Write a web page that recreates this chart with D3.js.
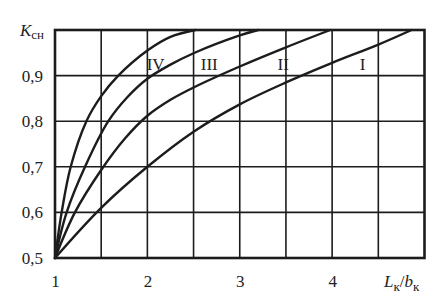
<!DOCTYPE html>
<html>
<head>
<meta charset="utf-8">
<script src="https://cdn.jsdelivr.net/npm/d3@7"></script>
<style>
  body { margin: 0; background: #fff; }
  svg { display: block; }
  text { font-family: "Liberation Serif", "DejaVu Serif", serif; fill: #222; }
</style>
</head>
<body>
<svg id="chart" width="445" height="308"></svg>
<script>
// Values: L_k/b_k against K_сн
const xTicks = [1, 2, 3, 4];
const yTicks = [0.5, 0.6, 0.7, 0.8, 0.9];
const curveNames = ["I", "II", "III", "IV"];

const curveI = [[1, 0.5], [1.5, 0.61], [2, 0.70], [2.5, 0.777], [3, 0.837],
                [3.5, 0.885], [4, 0.928], [4.5, 0.968], [4.86, 1.0]];
const curveII = [[1, 0.5], [1.216, 0.6], [1.5, 0.693], [1.757, 0.762], [2, 0.812],
                 [2.25, 0.847], [2.5, 0.874], [3, 0.92], [3.5, 0.962], [3.98, 1.0]];
const curveIII = [[1, 0.5], [1.126, 0.6], [1.325, 0.7], [1.577, 0.8], [1.78, 0.852],
                  [2, 0.893], [2.25, 0.924], [2.5, 0.949], [3, 0.988], [3.2, 1.0]];
const curveIV = [[1, 0.5], [1.072, 0.6], [1.17, 0.7], [1.34, 0.8], [1.5, 0.855],
                 [1.685, 0.9], [2, 0.955], [2.25, 0.985], [2.52, 1.0]];

// label positions (data units) for the roman numerals
const labelX = [4.33, 3.47, 2.67, 2.09];
const labelK = [0.912, 0.912, 0.912, 0.912];

const width = 445, height = 308;
const svg = d3.select("#chart");

const x = d3.scaleLinear().domain([1, 5]).range([55, 424.5]);
const y = d3.scaleLinear().domain([0.5, 1]).range([258, 30]);

const ink = "#1c1c1c";
const locale = d3.formatLocale({decimal: ",", thousands: " ", grouping: [3], currency: ["", ""]});
const fmt = locale.format(".1f");

// grid
const grid = svg.append("g").attr("stroke", ink).attr("stroke-width", 1.6);
grid.selectAll("line.v")
  .data(d3.range(1.5, 5, 0.5))
  .join("line")
  .attr("x1", d => x(d)).attr("x2", d => x(d))
  .attr("y1", y(0.5)).attr("y2", y(1));
grid.selectAll("line.h")
  .data(d3.range(0.6, 0.95, 0.1))
  .join("line")
  .attr("y1", d => y(d)).attr("y2", d => y(d))
  .attr("x1", x(1)).attr("x2", x(5));

// frame
svg.append("rect")
  .attr("x", x(1)).attr("y", y(1))
  .attr("width", x(5) - x(1)).attr("height", y(0.5) - y(1))
  .attr("fill", "none").attr("stroke", ink).attr("stroke-width", 2.6);

// curves
const line = d3.line().x(d => x(d[0])).y(d => y(d[1])).curve(d3.curveCatmullRom.alpha(0.5));
const curves = [curveI, curveII, curveIII, curveIV];
svg.append("g")
  .selectAll("path")
  .data(curves)
  .join("path")
  .attr("d", line)
  .attr("fill", "none")
  .attr("stroke", ink)
  .attr("stroke-width", 2.4)
  .attr("stroke-linecap", "round");

// curve labels
svg.append("g")
  .selectAll("text")
  .data(curveNames)
  .join("text")
  .attr("x", (d, i) => x(labelX[i]))
  .attr("y", (d, i) => y(labelK[i]))
  .attr("text-anchor", "middle")
  .attr("font-size", 17)
  .text(d => d);

// axes (labels only)
const yAxis = svg.append("g")
  .attr("transform", `translate(${x(1)},0)`)
  .call(d3.axisLeft(y).tickValues(yTicks).tickFormat(fmt).tickSize(0).tickPadding(12));
yAxis.select(".domain").remove();
yAxis.selectAll("text").attr("font-size", 17).attr("font-family", null).attr("fill", ink);

const xAxis = svg.append("g")
  .attr("transform", `translate(0,${y(0.5)})`)
  .call(d3.axisBottom(x).tickValues(xTicks).tickFormat(d3.format("d")).tickSize(0).tickPadding(17));
xAxis.select(".domain").remove();
xAxis.selectAll("text").attr("font-size", 17).attr("font-family", null).attr("fill", ink);

// axis titles
const yTitle = svg.append("text").attr("x", 20).attr("y", 36).attr("font-size", 17);
yTitle.append("tspan").attr("font-style", "italic").text("K");
yTitle.append("tspan").attr("font-size", 13).attr("dy", 3).text("сн");

const xTitle = svg.append("text").attr("x", 384).attr("y", 287).attr("font-size", 17);
xTitle.append("tspan").attr("font-style", "italic").text("L");
xTitle.append("tspan").attr("font-size", 13).attr("dy", 4).text("к");
xTitle.append("tspan").attr("dy", -4).text("/");
xTitle.append("tspan").attr("font-style", "italic").text("b");
xTitle.append("tspan").attr("font-size", 13).attr("dy", 4).text("к");
</script>
</body>
</html>
